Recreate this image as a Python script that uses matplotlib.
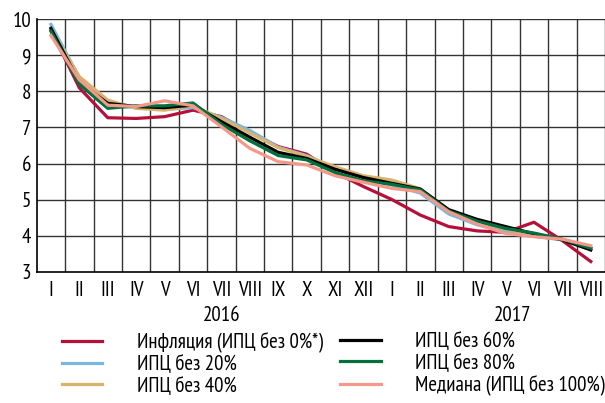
import numpy as np
import matplotlib
matplotlib.use('Agg')
import matplotlib.pyplot as plt

plt.rcParams['font.family'] = ['PT Sans Narrow', 'Fira Sans Extra Condensed', 'Roboto Condensed', 'DejaVu Sans']

months = ['I', 'II', 'III', 'IV', 'V', 'VI', 'VII', 'VIII', 'IX', 'X', 'XI', 'XII',
          'I', 'II', 'III', 'IV', 'V', 'VI', 'VII', 'VIII']

inflation = [9.70, 8.10, 7.27, 7.25, 7.30, 7.48, 7.30, 6.86, 6.47, 6.26,
             5.75, 5.36, 5.00, 4.57, 4.25, 4.13, 4.09, 4.37, 3.86, 3.28]
cpi20 = [9.86, 8.38, 7.62, 7.55, 7.50, 7.55, 7.28, 6.92, 6.45, 6.22,
         5.86, 5.60, 5.40, 5.18, 4.60, 4.30, 4.10, 3.98, 3.88, 3.66]
cpi40 = [9.72, 8.41, 7.76, 7.53, 7.48, 7.60, 7.25, 6.85, 6.44, 6.20,
         5.91, 5.66, 5.54, 5.30, 4.70, 4.40, 4.18, 4.02, 3.88, 3.65]
cpi60 = [9.75, 8.25, 7.67, 7.58, 7.55, 7.62, 7.16, 6.73, 6.31, 6.14,
         5.84, 5.61, 5.45, 5.29, 4.72, 4.45, 4.25, 4.05, 3.88, 3.60]
cpi80 = [9.67, 8.20, 7.53, 7.60, 7.60, 7.68, 7.09, 6.63, 6.22, 6.10,
         5.75, 5.52, 5.42, 5.27, 4.68, 4.40, 4.20, 4.07, 3.90, 3.65]
median = [9.55, 8.32, 7.62, 7.58, 7.74, 7.60, 7.02, 6.42, 6.05, 5.96,
          5.66, 5.48, 5.31, 5.22, 4.66, 4.32, 4.06, 3.97, 3.90, 3.72]

series = [
    ('Инфляция (ИПЦ без 0%*)', inflation, '#b5103a'),
    ('ИПЦ без 20%', cpi20, '#7ab6e0'),
    ('ИПЦ без 40%', cpi40, '#d9b26e'),
    ('ИПЦ без 60%', cpi60, '#000000'),
    ('ИПЦ без 80%', cpi80, '#00703c'),
    ('Медиана (ИПЦ без 100%)', median, '#f4998a'),
]

years = ['2016', '2017']
year_pos = [6.0, 16.25]

fs = 15

fig = plt.figure(figsize=(6.05, 4.03), dpi=100)
ax = fig.add_axes([0.0607, 0.326, 0.9393, 0.626])

x = np.arange(len(months))
handles = []
for label, vals, col in series:
    h, = ax.plot(x, vals, color=col, lw=2.3, label=label)
    handles.append(h)

ax.set_xlim(-0.5, len(months) - 0.5)
ax.set_ylim(3, 10)
ax.set_yticks(range(3, 11))
ax.set_xticks(x)
ax.set_xticklabels(months)
for v in range(4, 11):
    ax.axhline(v, color='#333333', lw=1.0, zorder=0)
for v in np.arange(0.5, len(months), 1):
    ax.axvline(v, color='#333333', lw=1.0, zorder=0)

ax.tick_params(axis='both', which='both', length=0, labelsize=fs)
ax.tick_params(axis='x', pad=7)
ax.tick_params(axis='y', pad=4)
for s in ['top', 'right']:
    ax.spines[s].set_visible(False)
for s in ['left', 'bottom']:
    ax.spines[s].set_color('black')
    ax.spines[s].set_linewidth(1.2)

for yr, xp in zip(years, year_pos):
    ax.text(xp, -0.172, yr, transform=ax.get_xaxis_transform(),
            ha='center', va='center', fontsize=fs)

leg_kw = dict(loc='upper left', frameon=False, fontsize=fs, handlelength=1.95,
              handletextpad=1.65, labelspacing=0.12, borderpad=0, borderaxespad=0)
fig.legend(handles=handles[:3], bbox_to_anchor=(0.102, 0.176), **leg_kw)
fig.legend(handles=handles[3:], bbox_to_anchor=(0.562, 0.176), **leg_kw)

fig.savefig('out.png', dpi=100)
